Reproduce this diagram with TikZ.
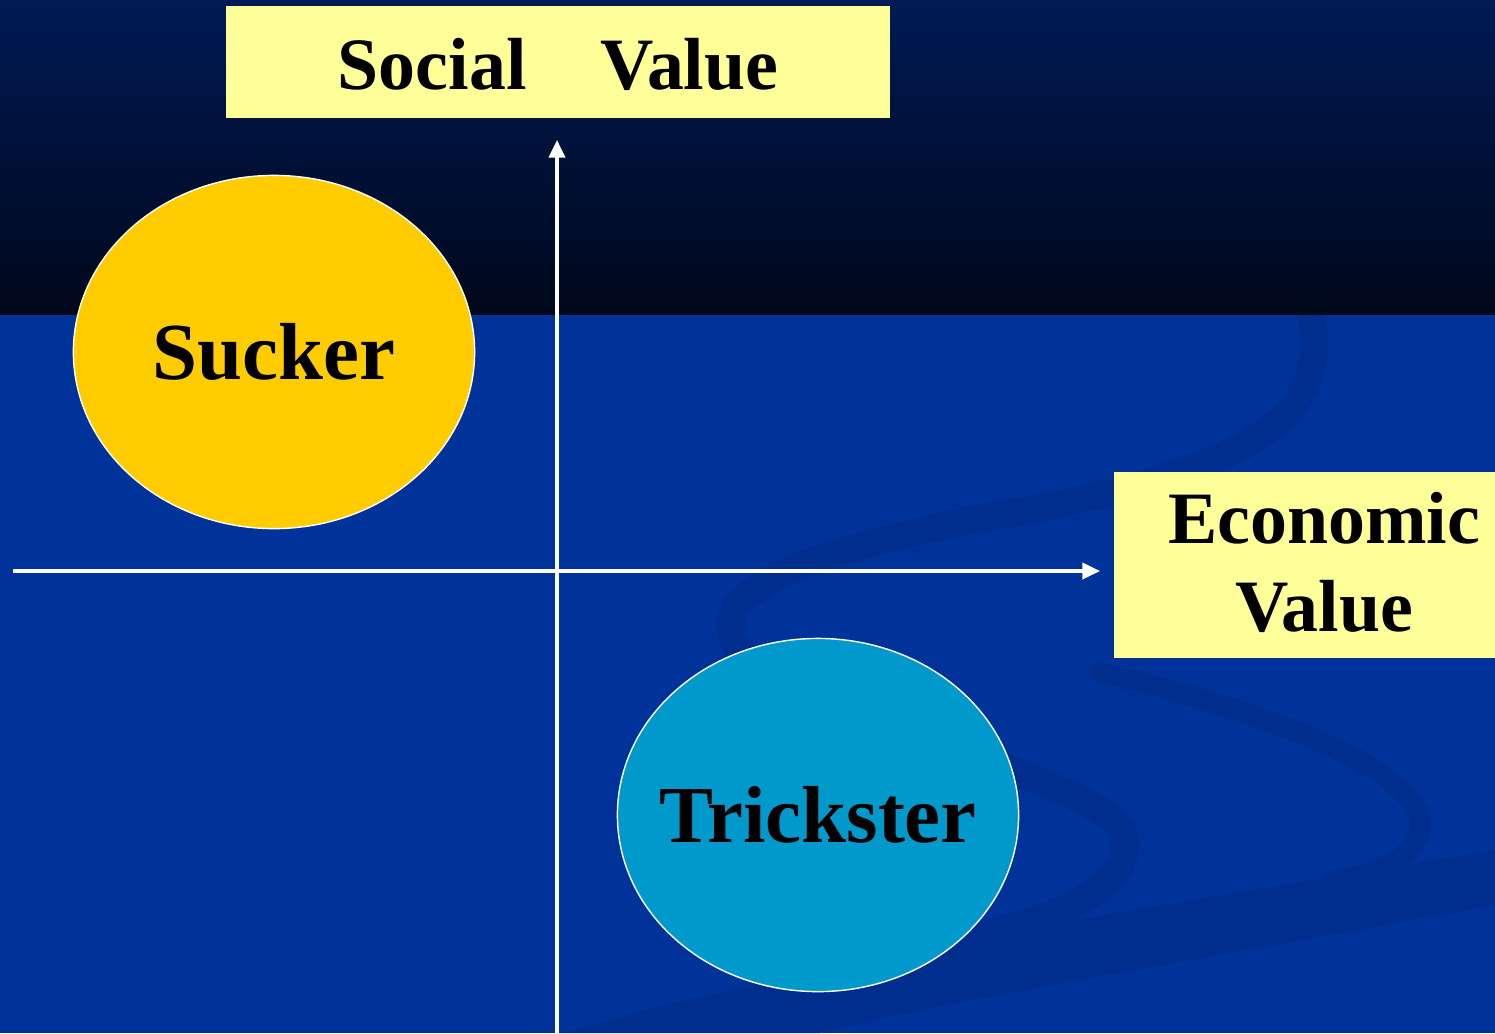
\documentclass[tikz,border=0pt]{standalone}
\usepackage{fontspec}
\setmainfont{Liberation Serif}
\usetikzlibrary{arrows.meta,shapes.geometric,positioning}
\definecolor{deepsky}{HTML}{001A55}
\definecolor{nightsky}{HTML}{00081A}
\definecolor{seablue}{HTML}{003399}
\definecolor{swirlblue}{HTML}{002E8E}
\definecolor{labelyellow}{HTML}{FFFF99}
\definecolor{suckergold}{HTML}{FFCC00}
\definecolor{tricksterteal}{HTML}{0099CC}
\tikzstyle{axislabel}=[rectangle,fill=labelyellow,inner sep=0pt]
\tikzstyle{labeltext}=[font=\bfseries\fontsize{21}{25}\selectfont]
\tikzstyle{player}=[ellipse,draw=white,thin,inner sep=0pt,minimum width=4.01cm,minimum height=3.53cm]
\tikzstyle{playername}=[font=\bfseries\fontsize{23}{27}\selectfont]
\tikzstyle{axis}=[draw=white,line width=0.9pt]
\tikzstyle{swirl}=[draw=swirlblue,line width=8pt,line cap=round]

\begin{document}
\begin{tikzpicture}[x=0.01cm,y=-0.01cm,>={Triangle[length=5pt,width=4.6pt]}]
    \useasboundingbox (0,0) rectangle (1495,1033);
    % background
    \shade[top color=deepsky,bottom color=nightsky] (0,0) rectangle (1495,315);
    \fill[seablue] (0,315) rectangle (1495,1033);
    \begin{scope}
      \clip (0,315) rectangle (1495,1033);
      \draw[swirl] (1308,300) .. controls (1340,420) and (1250,470) .. (1000,515)
        .. controls (780,555) and (700,600) .. (740,650)
        .. controls (800,720) and (1120,780) .. (1125,840)
        .. controls (1130,890) and (1050,920) .. (980,935);
      \draw[swirl,line width=6pt] (1100,672) .. controls (1300,720) and (1430,780) .. (1420,830)
        .. controls (1410,865) and (1370,875) .. (1336,880);
      \fill[swirlblue] (560,1033) .. controls (900,940) and (1200,900) .. (1495,850)
        -- (1495,905) .. controls (1200,960) and (950,1000) .. (820,1033) -- cycle;
    \end{scope}
    % axis labels
    \node[axislabel,minimum width=6.64cm,minimum height=1.12cm] (socialbox) at (558,62) {};
    \node[labeltext] (social) at (558,64) {Social\hspace{1em}Value};
    \node[axislabel,minimum width=3.9cm,minimum height=1.86cm] (econbox) at (1309,565) {};
    \node[labeltext,align=center] (econ) at (1324,562) {Economic\\Value};
    % axes
    \coordinate (bottom) at (557,1033);
    \coordinate (left) at (13,571);
    \coordinate (top) at (557,140);
    \coordinate (right) at (1100,571);
    \draw[axis,->] (bottom) -- (top);
    \draw[axis,->] (left) -- (right);
    % players
    \node[player,fill=suckergold,label={[playername]center:Sucker}] (sucker) at (274,352) {};
    \node[player,fill=tricksterteal,label={[playername]center:Trickster}] (trickster) at (818,815) {};
\end{tikzpicture}
\end{document}
